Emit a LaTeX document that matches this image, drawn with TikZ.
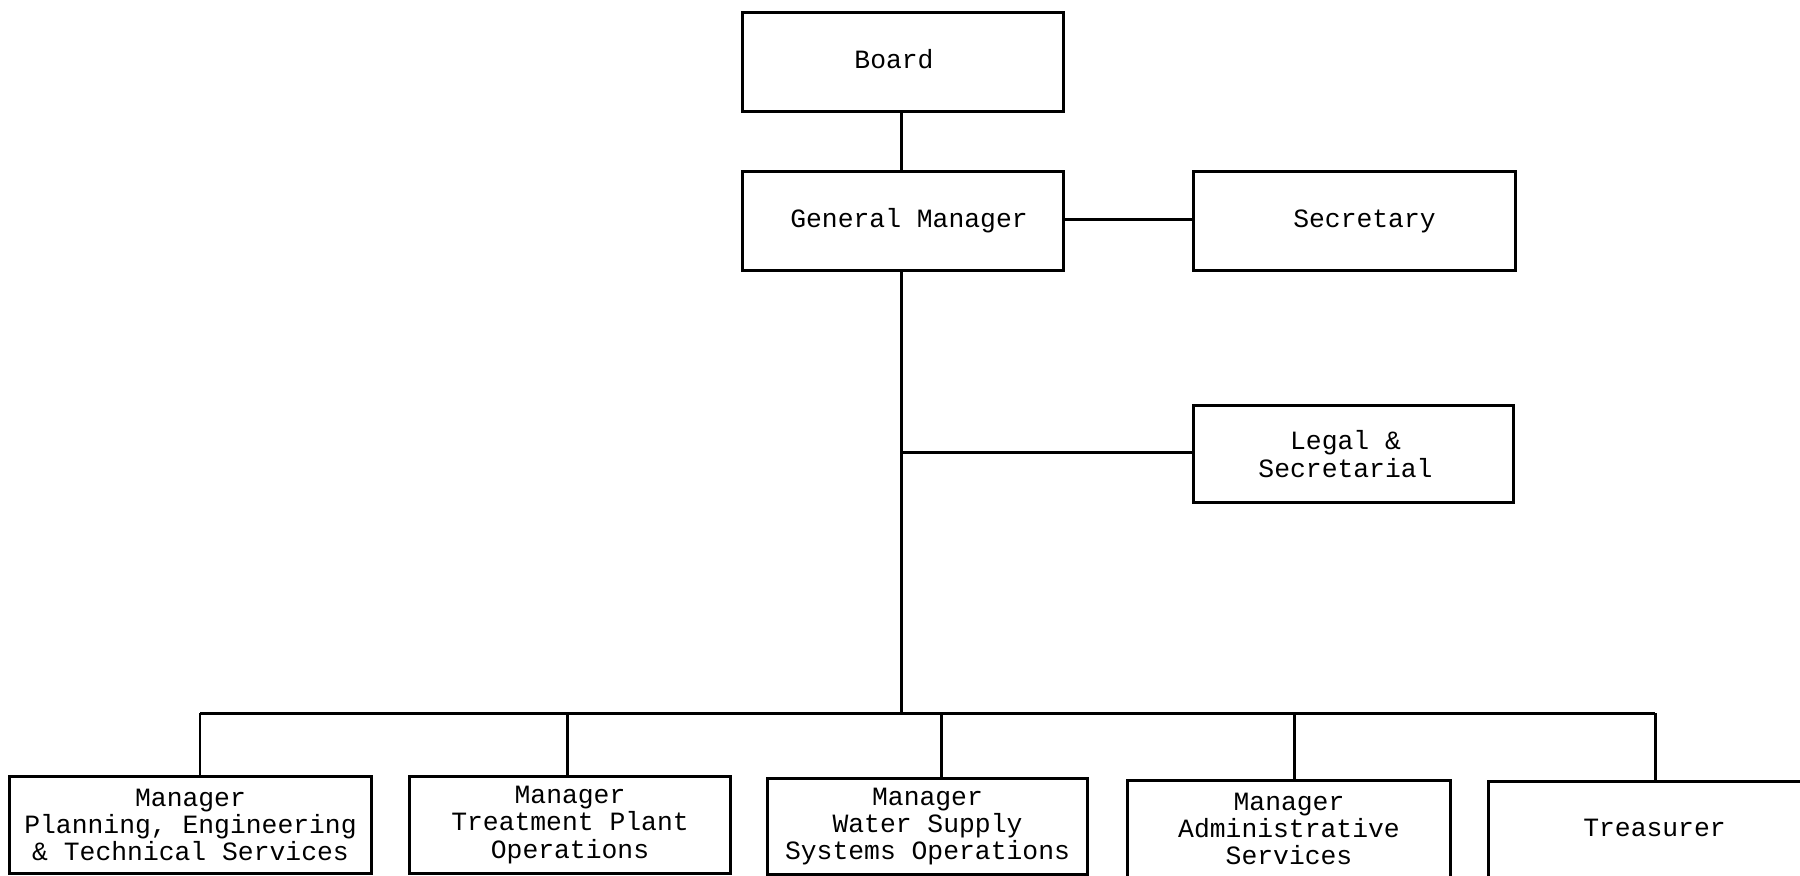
\documentclass[tikz,border=0pt]{standalone}
\usepackage{fontspec}
\setmonofont{Liberation Mono}
\begin{document}
\begin{tikzpicture}[x=0.01cm,y=-0.01cm,
  line width=0.85pt,
  unit/.style={draw, rectangle, inner sep=0pt, minimum height=0.96cm,
    align=center, font=\ttfamily\fontsize{7.5}{7.75}\selectfont},
  link/.style={draw, line width=0.85pt}]
\useasboundingbox (0,0) rectangle (1800,875);
\clip (0,0) rectangle (1800,875);

% top of the chart
\node[unit, minimum width=3.2cm, minimum height=0.98cm] (board) at (903,62)
  {\raisebox{1.6pt}{Board}\hspace*{0.18cm}};
\node[unit, minimum width=3.2cm, minimum height=0.98cm] (gm) at (903,221)
  {\hspace*{0.12cm}General Manager};
\node[unit, minimum width=3.21cm, minimum height=0.98cm] (sec) at (1354.5,221)
  {\hspace*{0.2cm}Secretary};
\node[unit, minimum width=3.19cm] (legal) at (1353.5,454)
  {Legal \&\hspace*{0.16cm}\\Secretarial\hspace*{0.16cm}};

% the five departments
\node[unit, minimum width=3.61cm] (plan) at (190.5,825) {Manager\\Planning, Engineering\\\& Technical Services};
\node[unit, minimum width=3.2cm] (treat) at (570,825) {Manager\\Treatment Plant\\Operations};
\node[unit, minimum width=3.19cm] (water) at (927.5,826.5) {Manager\\Water Supply\\Systems Operations};
\node[unit, minimum width=3.22cm] (admin) at (1289,829) {Manager\\Administrative\\Services};
\node[unit, minimum width=3.31cm] (treas) at (1654.5,830) {\raisebox{1pt}{Treasurer}};

% junction points on the trunk and the bus
\coordinate (trunk) at (901,270);
\coordinate (legaljoin) at (901,452);
\coordinate (busjoin) at (901,713);
\coordinate (d1) at (200,713);
\coordinate (d2) at (567,713);
\coordinate (d3) at (941,713);
\coordinate (d4) at (1294,713);
\coordinate (d5) at (1655,713);

% connectors
\draw[link] (board.south -| trunk) -- (gm.north -| trunk);
\draw[link] (gm.east |- 0,219) -- (sec.west |- 0,219);
\draw[link] (trunk) -- (busjoin);
\draw[link] (legaljoin) -- (legal.west |- legaljoin);
\draw[link] (d1) -- (d5);
\draw[link] (d1) -- (d1 |- plan.north);
\draw[link] (d2) -- (d2 |- treat.north);
\draw[link] (d3) -- (d3 |- water.north);
\draw[link] (d4) -- (d4 |- admin.north);
\draw[link] (d5) -- (d5 |- treas.north);
\end{tikzpicture}
\end{document}
